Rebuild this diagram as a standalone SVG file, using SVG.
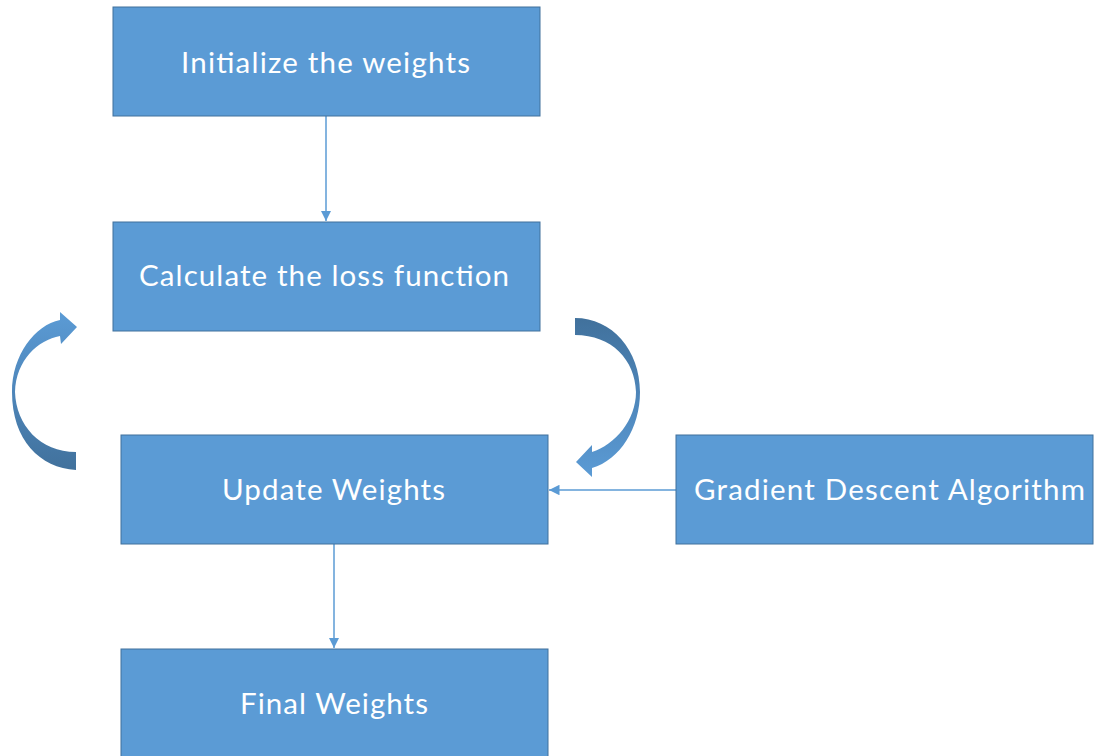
<svg xmlns="http://www.w3.org/2000/svg" width="1097" height="756" viewBox="0 0 1097 756">
  <style>
    .box { fill: #5B9BD5; stroke: #41719C; stroke-width: 1; }
    .label { fill: #FFFFFF; font-family: Lato, "Open Sans", sans-serif; font-size: 29.5px; text-anchor: middle; }
    .conn { stroke: #5B9BD5; stroke-width: 1.5; fill: none; marker-end: url(#head); }
  </style>
  <defs>
    <marker id="head" viewBox="0 0 10 10" refX="10" refY="5" markerWidth="7" markerHeight="7" markerUnits="strokeWidth" orient="auto">
      <path d="M0,0 L10,5 L0,10 Z" fill="#5B9BD5"/>
    </marker>
    <linearGradient id="loopLeft" x1="0" y1="1" x2="0" y2="0">
      <stop offset="0" stop-color="#41719C"/>
      <stop offset="0.5" stop-color="#4E86BA"/>
      <stop offset="1" stop-color="#5B9BD5"/>
    </linearGradient>
    <linearGradient id="loopRight" x1="0" y1="0" x2="0" y2="1">
      <stop offset="0" stop-color="#41719C"/>
      <stop offset="0.5" stop-color="#4E86BA"/>
      <stop offset="1" stop-color="#5B9BD5"/>
    </linearGradient>
  </defs>

  <rect width="1097" height="756" fill="#FFFFFF"/>

  <g id="connectors">
    <line class="conn" x1="326" y1="116" x2="326" y2="221"/>
    <line class="conn" x1="676" y1="490" x2="549" y2="490"/>
    <line class="conn" x1="334" y1="544" x2="334" y2="648"/>
    <!-- curved loop arrows between loss and update steps -->
    <path id="loop-up" fill="url(#loopLeft)" d="M76,470 C40,468 12,440 12,392 C12,355 35,325 60,320 L60,312 L77,327 L61,344 L60,336 C38,340 16,360 15,392 C16,425 40,452 76,452 Z"/>
    <path id="loop-down" fill="url(#loopRight)" d="M575,318 C612,318 640,350 640,392 C640,428 620,460 592,468 L592,477 L576,462 L592,445 L592,452 C615,445 636,420 636,392 C635,360 612,335 575,335 Z"/>
  </g>

  <g id="init">
    <rect class="box" x="113" y="7" width="427" height="109"/>
    <text class="label" x="325.5" y="73" textLength="289" lengthAdjust="spacing">Initialize the weights</text>
  </g>
  <g id="loss">
    <rect class="box" x="113" y="222" width="427" height="109"/>
    <text class="label" x="324" y="286" textLength="370" lengthAdjust="spacing">Calculate the loss function</text>
  </g>
  <g id="update">
    <rect class="box" x="121" y="435" width="427" height="109"/>
    <text class="label" x="333.5" y="500" textLength="223" lengthAdjust="spacing">Update Weights</text>
  </g>
  <g id="gradient">
    <rect class="box" x="676" y="435" width="417" height="109"/>
    <text class="label" x="889.5" y="500" textLength="391" lengthAdjust="spacing">Gradient Descent Algorithm</text>
  </g>
  <g id="final">
    <rect class="box" x="121" y="649" width="427" height="120"/>
    <text class="label" x="334" y="714" textLength="188" lengthAdjust="spacing">Final Weights</text>
  </g>
</svg>
